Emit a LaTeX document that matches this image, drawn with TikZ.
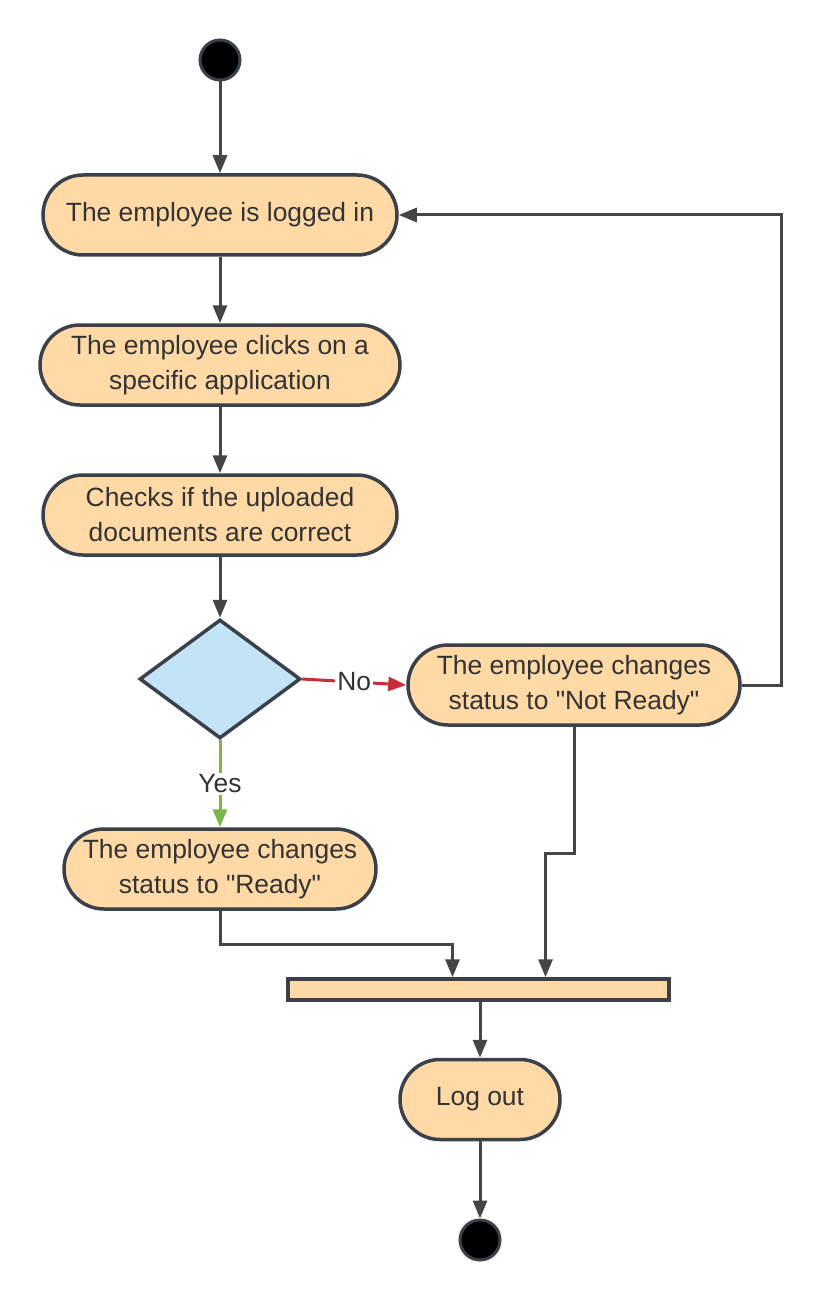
\documentclass[tikz,border=0pt]{standalone}
\usepackage{fontspec}
\setmainfont{Liberation Sans}
\usepackage{tikz}
\usetikzlibrary{arrows.meta, shapes.geometric}
\definecolor{actfill}{HTML}{FFD9A6}
\definecolor{decfill}{HTML}{C3E4F7}
\definecolor{edge}{HTML}{3A414A}
\definecolor{wire}{HTML}{454545}
\definecolor{txt}{HTML}{333333}
\definecolor{nored}{HTML}{C92D39}
\definecolor{yesgreen}{HTML}{7AB648}
\newcommand*{\qt}[1]{\textquotedbl#1\textquotedbl}
\tikzset{>={Triangle[length=9pt, width=7pt]}}
\tikzset{
  action/.style={draw=edge, fill=actfill, line width=1.75pt, rounded corners=20pt,
    minimum height=40pt, inner sep=0pt, align=center, text=txt,
    font=\fontsize{13.2}{17.5}\selectfont},
  decision/.style={diamond, draw=edge, fill=decfill, line width=1.75pt,
    minimum width=80.5pt, minimum height=59.5pt, inner sep=0pt},
  terminal/.style={circle, draw=edge, fill=black, line width=1.5pt, minimum size=20pt, inner sep=0pt},
  syncbar/.style={draw=edge, fill=actfill, line width=1.75pt, minimum width=190.5pt,
    minimum height=10.5pt, inner sep=0pt},
  flow/.style={draw=wire, line width=1.5pt, ->},
  guard/.style={fill=white, inner sep=1pt, text=txt, font=\fontsize{13.2}{17.5}\selectfont}
}

\begin{document}
\begin{tikzpicture}[x=0.5pt, y=-0.5pt]
    \useasboundingbox (0, 0) rectangle (823, 1300);
    % nodes
    \node[terminal](start)at(220, 60){};
    \node[action, minimum width=177pt](login)at(220, 215){The employee is logged in};
    \node[action, minimum width=180pt](clicks)at(220, 365){The employee clicks on a\\specific application};
    \node[action, minimum width=177pt](check)at(220, 515){Checks if the uploaded\\documents are correct};
    \node[decision](dec)at(220, 679){};
    \node[action, minimum width=166pt](notready)at(574, 685){The employee changes\\status to \qt{Not Ready}};
    \node[action, minimum width=156pt](ready)at(220, 869){The employee changes\\status to \qt{Ready}};
    \node[syncbar](bar)at(478.5, 989.5){};
    \node[action, minimum width=80pt](logout)at(480, 1099.5){Log out};
    \node[terminal](stop)at(480, 1240){};
    \coordinate(loop)at(781, 450);
    % connectors
    \draw[flow](start)--(login);
    \draw[flow](login)--(clicks);
    \draw[flow](clicks)--(check);
    \draw[flow](check)--(dec);
    \draw[flow, draw=nored, -{Triangle[length=9pt, width=7pt, fill=nored]}](dec.east)--node[guard]{No}(notready.west);
    \draw[flow, draw=yesgreen, -{Triangle[length=9pt, width=7pt, fill=yesgreen]}](dec.south)--node[guard]{Yes}(ready.north);
    \draw[flow](notready.east)-|(loop)|-(login.east);
    \draw[flow](ready.south)--++(0, 34)-|([xshift=-13pt]bar.north);
    \draw[flow](notready.south)--++(0, 127)-|([xshift=33.5pt]bar.north);
    \draw[flow](bar.south -| logout.north)--(logout.north);
    \draw[flow](logout)--(stop);
\end{tikzpicture}
\end{document}
